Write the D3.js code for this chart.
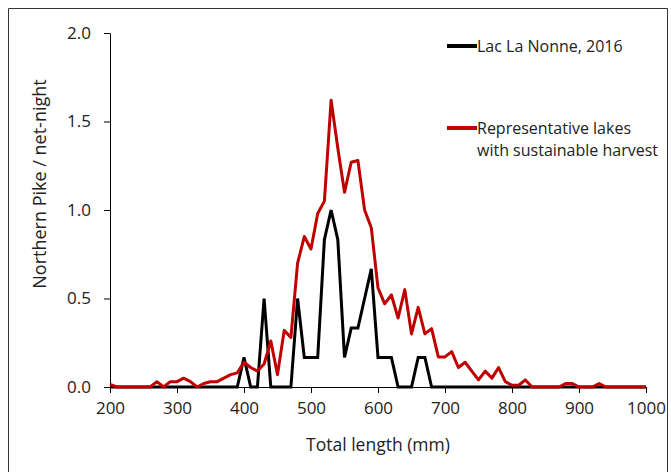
<!DOCTYPE html>
<html>
<head>
<meta charset="utf-8">
<script src="https://cdn.jsdelivr.net/npm/d3@7"></script>
<style>
  body { margin: 0; background: #fff; }
  text { font-family: "Open Sans", sans-serif; fill: #222; }
</style>
</head>
<body>
<div id="chart"></div>
<script>
// total length bins (mm)
const lengths = [200, 210, 220, 230, 240, 250, 260, 270, 280, 290,
    300, 310, 320, 330, 340, 350, 360, 370, 380, 390,
    400, 410, 420, 430, 440, 450, 460, 470, 480, 490,
    500, 510, 520, 530, 540, 550, 560, 570, 580, 590,
    600, 610, 620, 630, 640, 650, 660, 670, 680, 690,
    700, 710, 720, 730, 740, 750, 760, 770, 780, 790,
    800, 810, 820, 830, 840, 850, 860, 870, 880, 890,
    900, 910, 920, 930, 940, 950, 960, 970, 980, 990, 1000];

// Lac La Nonne, 2016
const lakeValues = [0, 0, 0, 0, 0, 0, 0, 0, 0, 0,
    0, 0, 0, 0, 0, 0, 0, 0, 0, 0,
    0.167, 0, 0, 0.5, 0, 0, 0, 0, 0.5, 0.167,
    0.167, 0.167, 0.833, 1.0, 0.833, 0.167, 0.333, 0.333, 0.5, 0.667,
    0.167, 0.167, 0.167, 0, 0, 0, 0.167, 0.167, 0, 0,
    0, 0, 0, 0, 0, 0, 0, 0, 0, 0,
    0, 0, 0, 0, 0, 0, 0, 0, 0, 0,
    0, 0, 0, 0, 0, 0, 0, 0, 0, 0, 0];

// Representative lakes with sustainable harvest
const reprValues = [0.015, 0, 0, 0, 0, 0, 0, 0.03, 0, 0.03,
    0.03, 0.05, 0.03, 0, 0.02, 0.03, 0.03, 0.05, 0.07, 0.08,
    0.14, 0.11, 0.09, 0.13, 0.26, 0.07, 0.32, 0.28, 0.70, 0.85,
    0.78, 0.98, 1.05, 1.62, 1.35, 1.10, 1.27, 1.28, 1.00, 0.90,
    0.56, 0.47, 0.52, 0.39, 0.55, 0.30, 0.45, 0.30, 0.33, 0.17,
    0.17, 0.20, 0.11, 0.14, 0.09, 0.04, 0.09, 0.05, 0.11, 0.03,
    0.01, 0.01, 0.04, 0, 0, 0, 0, 0, 0.02, 0.02,
    0, 0, 0, 0.02, 0, 0, 0, 0, 0, 0, 0];

const xTicks = [200, 300, 400, 500, 600, 700, 800, 900, 1000];
const yTicks = [0, 0.5, 1.0, 1.5, 2.0];

const W = 671, H = 472;
const margin = { top: 33, right: 25, bottom: 85, left: 110 };
const width = 646 - margin.left;
const height = 387 - margin.top;

const svg = d3.select("#chart")
    .append("svg")
    .attr("width", W)
    .attr("height", H);

// outer frame
svg.append("path")
    .attr("d", `M8.5,${H} V8.5 H667.5 V${H}`)
    .attr("fill", "none")
    .attr("stroke", "#333")
    .attr("stroke-width", 1);

const g = svg.append("g")
    .attr("transform", `translate(${margin.left}, ${margin.top})`);

const x = d3.scaleLinear().domain([200, 1000]).range([0, width]);
const y = d3.scaleLinear().domain([0, 2]).range([height, 0]);

const xAxis = d3.axisBottom(x).tickValues(xTicks).tickSize(6).tickSizeOuter(0).tickPadding(9)
    .tickFormat(d3.format("d"));
const yAxis = d3.axisLeft(y).tickValues(yTicks).tickSize(6).tickSizeOuter(0).tickPadding(13)
    .tickFormat(d3.format(".1f"));

g.append("g")
    .attr("class", "x axis")
    .attr("transform", `translate(0, ${height})`)
    .call(xAxis);

g.append("g")
    .attr("class", "y axis")
    .call(yAxis);

g.selectAll(".axis path, .axis line")
    .attr("stroke", "#000")
    .attr("stroke-width", 1);
g.selectAll(".axis text")
    .style("font-family", "'Open Sans', sans-serif")
    .style("font-size", "17px")
    .attr("fill", "#222");

const line = d3.line()
    .x((d, i) => x(lengths[i]))
    .y(d => y(d));

g.append("path")
    .datum(lakeValues)
    .attr("fill", "none")
    .attr("stroke", "#000")
    .attr("stroke-width", 3)
    .attr("stroke-linejoin", "miter")
    .attr("d", line);

g.append("path")
    .datum(reprValues)
    .attr("fill", "none")
    .attr("stroke", "#c00000")
    .attr("stroke-width", 3)
    .attr("stroke-linejoin", "round")
    .attr("d", line);

// axis titles
svg.append("text")
    .attr("x", margin.left + width / 2)
    .attr("y", 445)
    .attr("dy", "0.35em")
    .attr("text-anchor", "middle")
    .style("font-size", "17.5px")
    .text("Total length (mm)");

svg.append("text")
    .attr("transform", "translate(40, 184) rotate(-90)")
    .attr("dy", "0.35em")
    .attr("text-anchor", "middle")
    .style("font-size", "18px")
    .text("Northern Pike / net-night");

// legend
const legend = [
    { color: "#000", lines: ["Lac La Nonne, 2016"], y: 46 },
    { color: "#c00000", lines: ["Representative lakes", "with sustainable harvest"], y: 128 }
];

legend.forEach(item => {
    svg.append("line")
        .attr("x1", 447).attr("x2", 477)
        .attr("y1", item.y).attr("y2", item.y)
        .attr("stroke", item.color)
        .attr("stroke-width", 4);
    item.lines.forEach((t, i) => {
        svg.append("text")
            .attr("x", 477)
            .attr("y", item.y + i * 22)
            .attr("dy", "0.35em")
            .style("font-size", "16px")
            .text(t);
    });
});
</script>
</body>
</html>
